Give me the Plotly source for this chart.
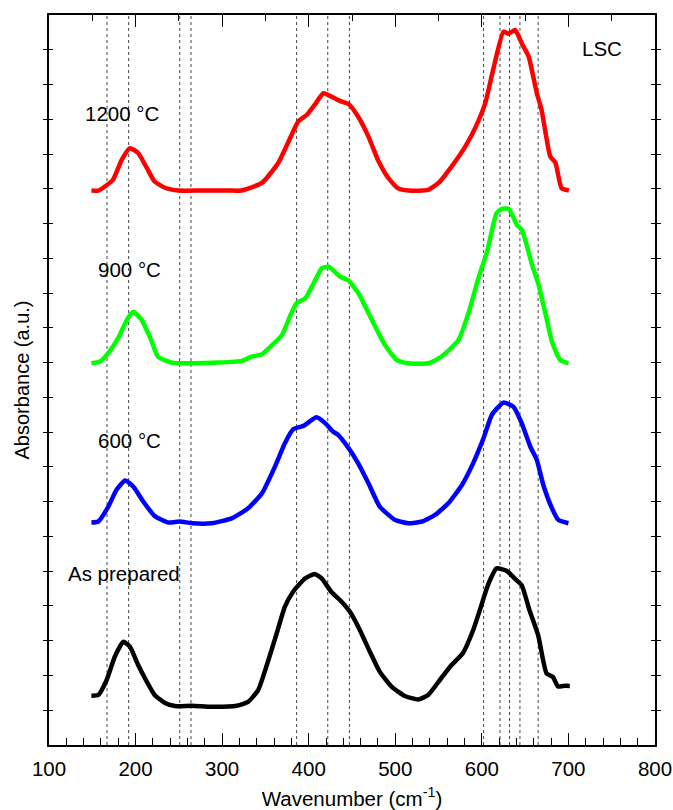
import plotly.graph_objects as go

# ---------------- data ----------------
wn_1200 = [149, 157, 167, 174, 184, 193.5, 203, 213, 222, 234, 249.5, 276, 307, 322, 346, 365, 376, 388, 398, 407, 417,
           426.5, 436, 446, 457, 469, 480, 492, 503, 515, 538, 550, 565, 581, 594, 604, 613, 625, 631, 638.5, 646, 654,
           663.5, 669, 679, 685, 692, 700.5]
ab_1200 = [0, 0, 0.16, 0.31, 0.88, 1.22, 1.08, 0.65, 0.26, 0.08, 0, 0, 0, 0, 0.22, 0.80, 1.37, 1.99, 2.18, 2.47, 2.80,
           2.70, 2.58, 2.49, 2.13, 1.55, 0.88, 0.36, 0.07, 0, 0.02, 0.22, 0.69, 1.27, 1.89, 2.52, 3.47, 4.57, 4.51, 4.62,
           4.24, 3.86, 2.80, 2.32, 0.98, 0.80, 0.07, 0]

wn_900 = [149, 159, 168.6, 180, 190, 197.5, 207, 217, 226, 242, 265, 296, 323, 334, 346, 358, 369, 379, 386, 396, 407.6,
          415, 423, 436.5, 446, 457.6, 473, 488, 502, 515, 538, 550, 562, 573, 585, 596, 606, 617, 623, 631, 640.6,
          646.4, 658, 665.6, 673, 681, 690.6, 700]
ab_900 = [0, 0.05, 0.30, 0.73, 1.25, 1.48, 1.25, 0.73, 0.19, 0.02, 0, 0.02, 0.07, 0.19, 0.26, 0.53, 0.81, 1.39, 1.73,
          1.87, 2.40, 2.73, 2.78, 2.49, 2.38, 2.01, 1.25, 0.53, 0.09, 0, 0, 0.14, 0.38, 0.67, 1.48, 2.45, 3.21, 4.32,
          4.44, 4.44, 3.98, 3.83, 2.83, 2.25, 1.48, 0.62, 0.09, 0]

wn_600 = [149, 157, 168.6, 178, 188, 197.5, 209, 222, 238, 251, 265, 288, 311, 330, 346, 361, 372.5, 382, 394, 409,
          419, 428, 434, 446, 457, 469, 482, 500, 515, 531, 546, 561.5, 577, 590, 602, 611.6, 625, 636.6, 646, 656,
          663.5, 671, 681, 688.5, 700]
ab_600 = [0.02, 0.05, 0.48, 0.96, 1.23, 1.05, 0.62, 0.21, 0.02, 0.05, 0, 0, 0.14, 0.43, 0.86, 1.63, 2.30, 2.70, 2.80,
          3.05, 2.88, 2.64, 2.54, 2.16, 1.73, 1.15, 0.48, 0.09, 0, 0.05, 0.24, 0.58, 1.10, 1.73, 2.45, 3.12, 3.47, 3.35,
          2.88, 2.20, 1.82, 1.10, 0.43, 0.09, 0]

wn_asprep = [149, 157, 166.6, 176, 186, 193.5, 203, 213, 222, 234, 245.5, 265, 288, 317, 330, 341.6, 351, 363, 372.5,
             382, 395.6, 407, 415, 426, 438, 447.6, 459, 470.7, 482, 495.7, 511, 526.5, 538, 553, 565, 578, 590, 599.6,
             607, 617, 628.5, 640, 646, 655, 665, 674.7, 682, 688, 694, 701.6]
ab_asprep = [0.30, 0.32, 0.75, 1.42, 1.85, 1.71, 1.18, 0.70, 0.32, 0.09, 0, 0.01, -0.02, 0.01, 0.12, 0.46, 1.13, 2.09,
             2.86, 3.29, 3.67, 3.80, 3.67, 3.29, 3.00, 2.71, 2.19, 1.56, 0.99, 0.56, 0.29, 0.19, 0.32, 0.80, 1.18, 1.52,
             2.19, 2.91, 3.48, 3.96, 3.89, 3.62, 3.48, 2.76, 2.04, 0.94, 0.84, 0.56, 0.58, 0.58]

series_names = ["1200 °C", "900 °C", "600 °C", "As prepared"]
series_wn = [wn_1200, wn_900, wn_600, wn_asprep]
series_ab = [ab_1200, ab_900, ab_600, ab_asprep]
offsets = [15.95, 10.98, 6.38, 1.12]
colors = ["#ff0000", "#00ff00", "#0000ff", "#000000"]

ref_lines = [167, 192, 251, 264, 386, 422, 447, 602, 621, 632, 644, 665]

x_ticks = [100, 200, 300, 400, 500, 600, 700, 800]

# ---------------- figure ----------------
FONT = "Liberation Sans, Arial, sans-serif"
fig = go.Figure()

for name, wn, ab, off, col in zip(series_names, series_wn, series_ab, offsets, colors):
    fig.add_trace(go.Scatter(
        x=wn, y=[v + off for v in ab], mode="lines", name=name,
        line=dict(color=col, width=4.5, shape="spline", smoothing=0.5),
        showlegend=False, hoverinfo="skip"))

# dummy trace for the top axis
fig.add_trace(go.Scatter(x=[], y=[], xaxis="x2", showlegend=False))

for xv in ref_lines:
    fig.add_shape(type="line", xref="x", yref="paper", x0=xv, x1=xv, y0=0, y1=1,
                  line=dict(color="#444444", width=1, dash="dot"), layer="below")

labels = [("1200 °C", 139, 18.18), ("900 °C", 154, 13.67), ("600 °C", 154, 8.75),
          ("As prepared", 119.5, 4.92), ("LSC", 713, 20.05)]
for txt, xv, yv in labels:
    fig.add_annotation(text=txt, x=xv, y=yv, xref="x", yref="y", xanchor="left", yanchor="middle",
                       showarrow=False, font=dict(family=FONT, size=20.5, color="#000"))

fig.update_layout(
    width=673, height=810,
    margin=dict(l=49, r=18, t=15, b=65, autoexpand=False),
    paper_bgcolor="white", plot_bgcolor="white",
    font=dict(family=FONT, color="#000"),
    xaxis=dict(range=[100, 800], tickvals=x_ticks, ticks="inside", ticklen=12, tickwidth=1.2,
               tickcolor="#000", showgrid=False, zeroline=False, automargin=False,
               showline=True, linecolor="#000", linewidth=1.5, mirror=True, ticklabelstandoff=5,
               minor=dict(dtick=20, ticks="inside", ticklen=7, tickcolor="#000", tickwidth=1),
               tickfont=dict(size=20.5, family=FONT),
               title=dict(text="Wavenumber (cm<sup>-1</sup>)", font=dict(size=20.5, family=FONT), standoff=12)),
    xaxis2=dict(range=[100, 800], overlaying="x", side="top", anchor="y", tickvals=x_ticks,
                ticks="inside", ticklen=12, tickwidth=1.2, tickcolor="#000", showticklabels=False,
                showgrid=False, zeroline=False, showline=False, automargin=False,
                minor=dict(dtick=50, ticks="inside", ticklen=6, tickcolor="#000", tickwidth=1)),
    yaxis=dict(range=[0, 21], dtick=1, ticks="inside", ticklen=4, tickcolor="#000", tickwidth=1,
               showticklabels=False, showgrid=False, zeroline=False, automargin=False,
               showline=True, linecolor="#000", linewidth=1.5, mirror="allticks",
               title=dict(text="Absorbance (a.u.)", font=dict(size=20, family=FONT), standoff=12)),
)

fig.write_html("out.html")
